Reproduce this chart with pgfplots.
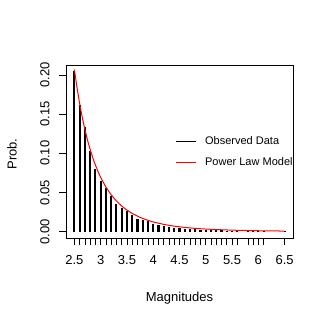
\documentclass[border=0pt]{standalone}
\usepackage{fontspec}
\setmainfont{Liberation Sans}
\usepackage{pgfplots}
\pgfplotsset{compat=1.18}
\begin{document}
\begin{tikzpicture}
\useasboundingbox (-66bp,-82bp) rectangle (261bp,238bp);
\begin{axis}[
  scale only axis, width=227bp, height=173bp,
  at={(0,0)}, anchor=south west,
  xmin=2.34, xmax=6.66, ymin=-0.0082, ymax=0.2128,
  axis line style={black, line width=0.75bp},
  tick align=outside, xtick pos=left, ytick pos=left,
  major tick length=7bp, minor tick length=7bp,
  tick style={black, line width=0.6bp},
  xtick={2.5,3,3.5,4,4.5,5,5.5,6,6.5},
  xticklabels={2.5,3,3.5,4,4.5,5,5.5,6,6.5},
  minor xtick={2.6,2.7,2.8,2.9,3.1,3.2,3.3,3.4,3.6,3.7,3.8,3.9,4.1,4.2,4.3,4.4,4.6,4.7,4.8,4.9,5.1,5.2,5.3,5.4,5.6,5.8,5.9,6.1},
  ytick={0,0.05,0.1,0.15,0.2},
  yticklabels={0.00,0.05,0.10,0.15,0.20},
  xticklabel style={yshift=-7bp},
  yticklabel style={xshift=-6bp, rotate=90, anchor=south},
  tick label style={font=\fontsize{13bp}{15bp}\selectfont},
  /pgf/number format/assume math mode=true,
  xlabel={Magnitudes}, ylabel={Prob.},
  label style={font=\fontsize{13bp}{15bp}\selectfont},
  xlabel style={at={(axis description cs:0.5,-0.312)}, anchor=north, inner sep=0pt},
  ylabel style={at={(axis description cs:-0.238,0.486)}, anchor=center, inner sep=0pt},
  legend image code/.code={\draw[#1] (0bp,0bp) -- (20bp,0bp);},
  legend style={draw=none, fill=none, font=\fontsize{11bp}{13bp}\selectfont,
    at={(axis description cs:0.48,0.497)}, anchor=west, inner sep=0pt,
    nodes={inner sep=0pt, anchor=west}, column sep=9bp, row sep=12bp},
]
\addplot[ycomb, black, line width=2.1bp, mark=none, forget plot] coordinates {
(2.5,0.205) (2.6,0.162) (2.7,0.134) (2.8,0.103) (2.9,0.080) (3.0,0.065)
(3.1,0.056) (3.2,0.045) (3.3,0.035) (3.4,0.030) (3.5,0.026) (3.6,0.021)
(3.7,0.016) (3.8,0.015) (3.9,0.013) (4.0,0.010) (4.1,0.0085) (4.2,0.0075)
(4.3,0.0062) (4.4,0.0052) (4.5,0.0045) (4.6,0.0038) (4.7,0.0034) (4.8,0.0028)
(4.9,0.0026) (5.0,0.0022) (5.1,0.0019) (5.2,0.0016) (5.3,0.0014) (5.4,0.0012)
(5.5,0.0011) (5.6,0.0009) (5.8,0.0007) (5.9,0.0006) (6.0,0.0006) (6.1,0.0004)
(6.5,0.0002)};
\addplot[red, line width=1bp, smooth, mark=none, forget plot] coordinates {
(2.5,0.2070) (2.55,0.1838) (2.6,0.1636) (2.65,0.1459) (2.7,0.1304) (2.75,0.1168)
(2.8,0.1049) (2.85,0.0943) (2.9,0.0850) (2.95,0.0767) (3.0,0.0693) (3.1,0.0569)
(3.2,0.0471) (3.3,0.0391) (3.4,0.0327) (3.5,0.0275) (3.6,0.0232) (3.7,0.0197)
(3.8,0.0168) (3.9,0.0144) (4.0,0.0123) (4.25,0.00857) (4.5,0.00609) (4.75,0.00440)
(5.0,0.00323) (5.5,0.00183) (6.0,0.00108) (6.5,0.00067)};
\addlegendimage{black, line width=1bp}
\addlegendentry{Observed Data}
\addlegendimage{red, line width=1bp}
\addlegendentry{Power Law Model}
\end{axis}
\end{tikzpicture}
\end{document}
